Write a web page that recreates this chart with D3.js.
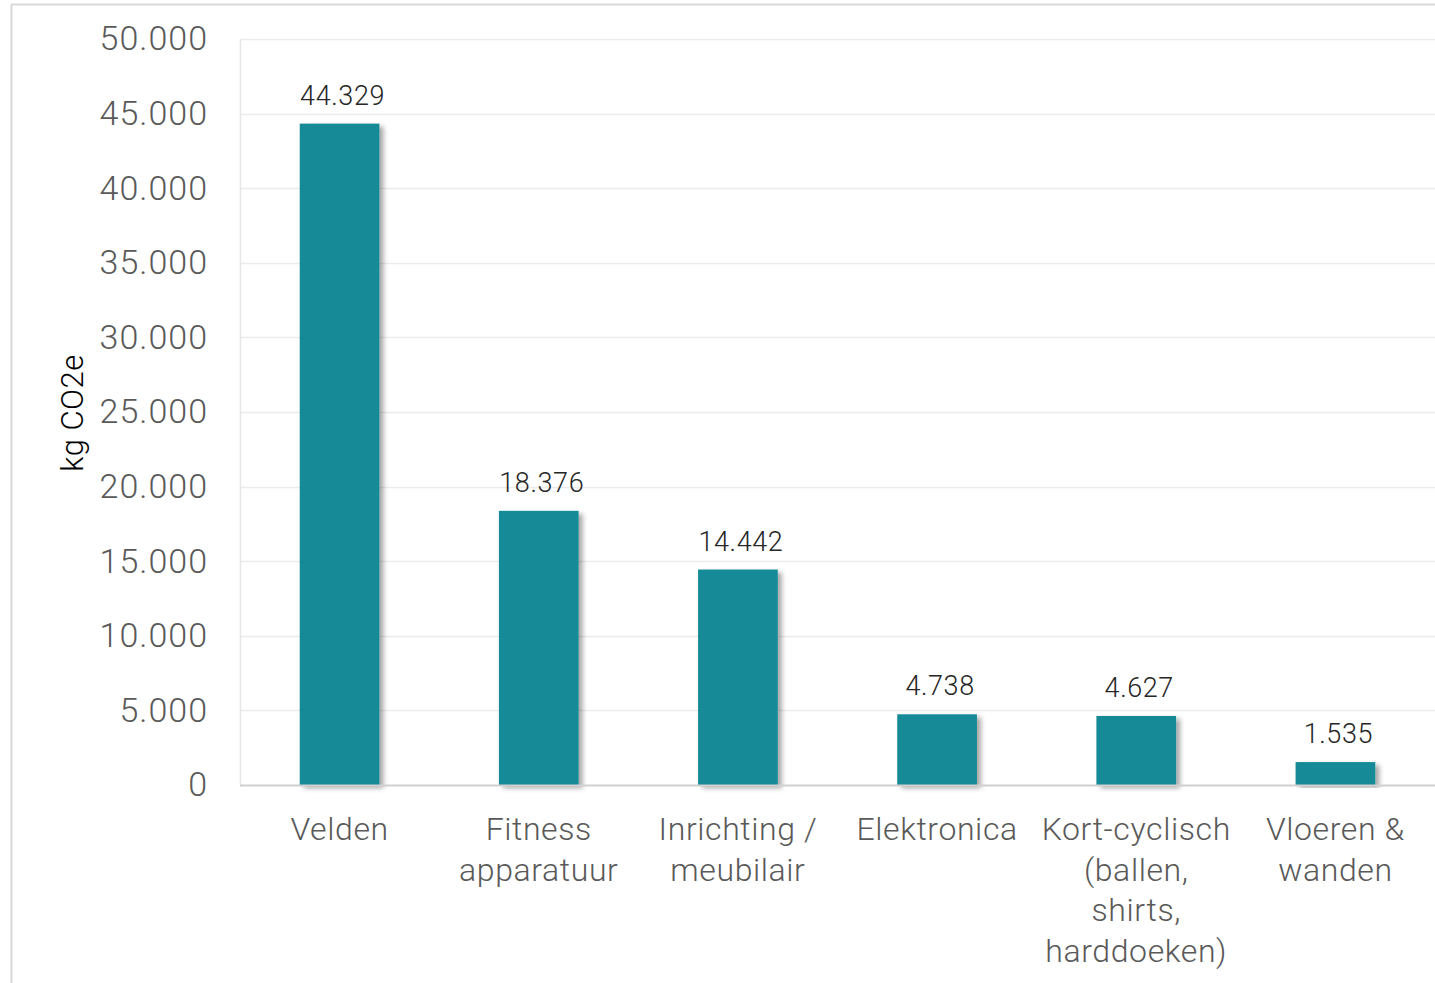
<!DOCTYPE html>
<html>
<head>
<meta charset="utf-8">
<script src="https://cdn.jsdelivr.net/npm/d3@7"></script>
<style>
  body { margin: 0; background: #fff; }
  text { font-family: Roboto, "Open Sans", sans-serif; font-weight: 300; }
</style>
</head>
<body>
<svg id="chart"></svg>
<script>
// data
var categories = [
  ["Velden"],
  ["Fitness", "apparatuur"],
  ["Inrichting /", "meubilair"],
  ["Elektronica"],
  ["Kort-cyclisch", "(ballen,", "shirts,", "harddoeken)"],
  ["Vloeren &", "wanden"]
]
var values = [44329, 18376, 14442, 4738, 4627, 1535]
var yTicks = [0, 5000, 10000, 15000, 20000, 25000, 30000, 35000, 40000, 45000, 50000]
var yTitle = "kg CO2e"

var screen = {width: 1435, height: 983}
var margin = {left: 240, right: 0, top: 39, bottom: 198}

var svg = d3.select("#chart")
  .attr("width", screen.width)
  .attr("height", screen.height)

// outer border of the chart box
svg.append("path")
  .attr("d", "M11.5," + screen.height + " L11.5,4.5 L" + screen.width + ",4.5")
  .attr("fill", "none")
  .attr("stroke", "#d9d9d9")
  .attr("stroke-width", 2)

var defs = svg.append("defs")
var f = defs.append("filter").attr("id", "shadow")
  .attr("x", "-20%").attr("y", "-5%").attr("width", "150%").attr("height", "115%")
f.append("feDropShadow")
  .attr("dx", 4).attr("dy", 3).attr("stdDeviation", 2.5)
  .attr("flood-color", "#000").attr("flood-opacity", 0.35)

var x = d3.scaleBand()
  .domain(d3.range(categories.length))
  .range([margin.left, screen.width - margin.right])
  .paddingInner(0.6).paddingOuter(0.3)

var y = d3.scaleLinear()
  .domain([0, 50000])
  .range([screen.height - margin.bottom, margin.top])

// gridlines
svg.append("g")
  .selectAll("line")
  .data(yTicks.filter(function(d){ return d > 0 }))
  .enter()
  .append("line")
  .attr("x1", margin.left).attr("x2", screen.width)
  .attr("y1", function(d){ return Math.round(y(d)) + 0.5 })
  .attr("y2", function(d){ return Math.round(y(d)) + 0.5 })
  .attr("stroke", "#ececec")
  .attr("stroke-width", 1.5)

// left axis line
svg.append("line")
  .attr("x1", margin.left + 0.5).attr("x2", margin.left + 0.5)
  .attr("y1", y(50000)).attr("y2", y(0))
  .attr("stroke", "#e6e6e6")
  .attr("stroke-width", 1.5)

// bars
svg.append("g")
  .selectAll("rect")
  .data(values)
  .enter()
  .append("rect")
  .attr("x", function(d, i){ return x(i) })
  .attr("width", x.bandwidth())
  .attr("y", function(d){ return y(d) })
  .attr("height", function(d){ return y(0) - y(d) })
  .attr("fill", "#128a96")
  .attr("filter", "url(#shadow)")

// zero line
svg.append("line")
  .attr("x1", margin.left).attr("x2", screen.width)
  .attr("y1", y(0) + 0.5).attr("y2", y(0) + 0.5)
  .attr("stroke", "#d0d0d0")
  .attr("stroke-width", 2)

var fmt = function(v){ return d3.format(",")(v).replace(/,/g, ".") }

// y tick labels
var yAxis = d3.axisLeft(y).tickValues(yTicks).tickSize(0).tickPadding(32).tickFormat(fmt)
var ya = svg.append("g")
  .attr("transform", "translate(" + margin.left + ",0)")
  .call(yAxis)
ya.select(".domain").remove()
ya.selectAll("text")
  .attr("font-family", "Roboto, sans-serif")
  .attr("font-size", 34)
  .attr("letter-spacing", 1)
  .attr("fill", "#595959")

// value labels
svg.append("g")
  .selectAll("text")
  .data(values)
  .enter()
  .append("text")
  .attr("x", function(d, i){ return x(i) + x.bandwidth() / 2 + 3 })
  .attr("y", function(d){ return y(d) - 19 })
  .attr("text-anchor", "middle")
  .attr("font-size", 27)
  .attr("letter-spacing", 0.6)
  .attr("fill", "#262626")
  .text(fmt)

// category labels
var cat = svg.append("g")
  .selectAll("text")
  .data(categories)
  .enter()
  .append("text")
  .attr("text-anchor", "middle")
  .attr("font-size", 32)
  .attr("letter-spacing", 0.6)
  .attr("fill", "#595959")
  .attr("transform", function(d, i){ return "translate(" + (x(i) + x.bandwidth() / 2) + "," + (y(0) + 55) + ")" })

cat.selectAll("tspan")
  .data(function(d){ return d })
  .enter()
  .append("tspan")
  .attr("x", 0)
  .attr("y", function(d, j){ return j * 40.5 })
  .text(function(d){ return d })

// y axis title
svg.append("text")
  .attr("transform", "translate(83,413) rotate(-90)")
  .attr("text-anchor", "middle")
  .attr("font-size", 31)
  .attr("letter-spacing", 0.5)
  .attr("fill", "#000")
  .text(yTitle)
</script>
</body>
</html>
